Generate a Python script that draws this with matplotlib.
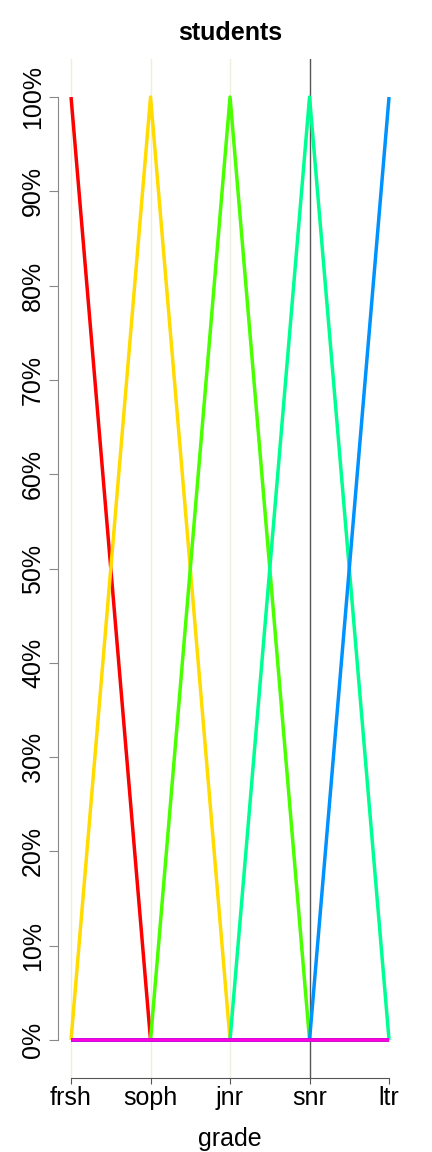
import matplotlib
matplotlib.use("Agg")
import matplotlib.pyplot as plt
from matplotlib.ticker import PercentFormatter

plt.rcParams['font.family'] = ['Liberation Sans', 'DejaVu Sans']

# dados
grades = ["frsh", "soph", "jnr", "snr", "ltr"]
frsh = [1.0, 0.0, 0.0, 0.0, 0.0]
soph = [0.0, 1.0, 0.0, 0.0, 0.0]
jnr = [0.0, 0.0, 1.0, 0.0, 0.0]
snr = [0.0, 0.0, 0.0, 1.0, 0.0]
ltr = [0.0, 0.0, 0.0, 0.0, 1.0]
other1 = [0.0, 0.0, 0.0, 0.0, 0.0]
other2 = [0.0, 0.0, 0.0, 0.0, 0.0]
series = [frsh, soph, jnr, snr, ltr, other1, other2]
cores = ["#FF0000", "#FFDB00", "#49FF00", "#00FF92", "#0092FF", "#4900FF", "#FF00DB"]

x = list(range(1, len(grades) + 1))

fig = plt.figure(figsize=(4.32, 11.52), dpi=100)
ax = fig.add_axes([0.135, 0.0645, 0.795, 0.884])

# linhas verticais
for xi in x[:3]:
    ax.axvline(xi, color="#EEEEDD", linewidth=1.0, zorder=0)
ax.axvline(x[3], color="#555555", linewidth=1.0, zorder=0)

for s, c in zip(series, cores):
    ax.plot(x, s, color=c, linewidth=2.5, solid_capstyle="butt", snap=False)

ax.set_xlim(0.84, 5.16)
ax.set_ylim(-0.04, 1.04)
ax.set_xticks(x)
ax.set_xticklabels(grades)
ax.set_yticks([i / 10 for i in range(11)])
ax.yaxis.set_major_formatter(PercentFormatter(1.0, decimals=0))

for sp in ["top", "right"]:
    ax.spines[sp].set_visible(False)
ax.spines["left"].set_bounds(0, 1)
ax.spines["bottom"].set_bounds(1, 5)
ax.spines["left"].set_color("#888888")
ax.spines["bottom"].set_color("#555555")

ax.tick_params(axis="y", labelrotation=90, labelsize=18, length=6.5, pad=3, color="#888888")
ax.tick_params(axis="x", labelsize=18, length=4, pad=2, color="#555555")
for lab in ax.get_yticklabels():
    lab.set_va("center")

ax.set_title("students", fontsize=18, fontweight="bold", pad=14)
ax.set_xlabel("grade", fontsize=18, labelpad=12)

plt.savefig("out.png", dpi=100)
